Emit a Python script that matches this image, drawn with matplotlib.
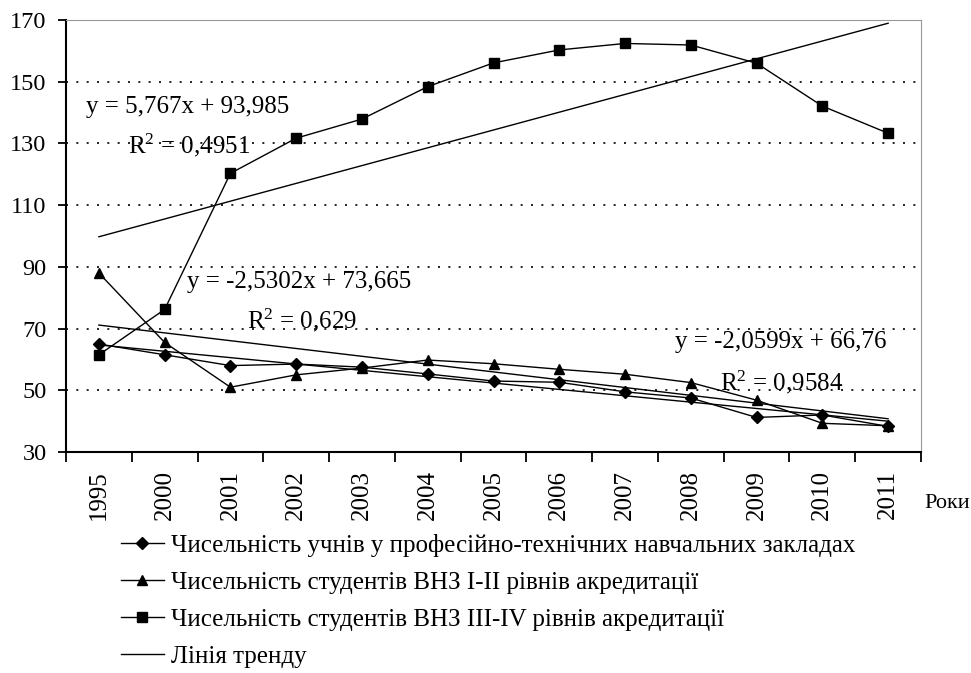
import numpy as np
import matplotlib.pyplot as plt
from matplotlib.lines import Line2D

plt.rcParams['font.family'] = ['Liberation Serif', 'DejaVu Serif']
plt.rcParams['mathtext.fontset'] = 'custom'
plt.rcParams['mathtext.rm'] = 'Liberation Serif'

# дані
years = ['1995', '2000', '2001', '2002', '2003', '2004', '2005', '2006',
         '2007', '2008', '2009', '2010', '2011']
ptnz = [65, 61.5, 58, 58.5, 57.5, 55.3, 53, 52.6, 49.5, 47.5, 41.2, 42, 38.3]
vnz12 = [88, 65.5, 51, 55, 57.2, 59.8, 58.6, 56.8, 55.2, 52.5, 46.8, 39.3, 38.5]
vnz34 = [61.5, 76.2, 120.3, 131.7, 137.9, 148.4, 156.1, 160.3, 162.4, 161.9, 156, 142.1, 133.3]

# лінії тренду (з рівнянь на графіку)
trend_slope = [-2.0599, -2.5302, 5.767]
trend_icpt = [66.76, 73.665, 93.985]
trend_eq = ['y = -2,0599x + 66,76', 'y = -2,5302x + 73,665', 'y = 5,767x + 93,985']
trend_r2 = ['$\\mathregular{R^2}$ = 0,9584', '$\\mathregular{R^2}$ = 0,629',
            '$\\mathregular{R^2}$ = 0,4951']

labels = ['Чисельність учнів у професійно-технічних навчальних закладах',
          'Чисельність студентів ВНЗ І-ІІ рівнів акредитації',
          'Чисельність студентів ВНЗ ІІІ-ІV рівнів акредитації',
          'Лінія тренду']

fig = plt.figure(figsize=(9.71, 6.73), dpi=100)
ax = fig.add_axes([66/971, 1-452/673, 855/971, 432/673])

x = np.arange(len(years))
ax.plot(x, ptnz, 'k-', marker='D', ms=6.5, lw=1)
ax.plot(x, vnz12, 'k-', marker='^', ms=7, lw=1)
ax.plot(x, vnz34, 'k-', marker='s', ms=6.5, lw=1)

xt = x + 1
for k in range(3):
    ax.plot(x, trend_slope[k]*xt + trend_icpt[k], 'k-', lw=1)

# підписи рівнянь
eq_pos = [(8.76, 65.6, 9.44, 52.7), (1.34, 85.1, 2.25, 72.8), (-0.2, 141.8, 0.44, 129.5)]
for k in range(3):
    ex, ey, rx, ry = eq_pos[k]
    ax.text(ex, ey, trend_eq[k], fontsize=18, ha='left', va='center')
    ax.text(rx, ry, trend_r2[k], fontsize=18, ha='left', va='center')

ax.set_xlim(-0.5, 12.5)
ax.set_ylim(30, 170)
ax.set_yticks(range(30, 171, 20))
ax.set_xticks(x)
ax.set_xticklabels(years, rotation=90, va='top')
ax.set_xticks(np.arange(-0.5, 13, 1), minor=True)
ax.tick_params(axis='x', which='major', length=0, pad=13, labelsize=18)
ax.tick_params(axis='x', which='minor', length=7, width=1.3, direction='out')
ax.tick_params(axis='y', length=6, width=1.3, direction='out', labelsize=17.5, pad=8)

for v in range(50, 151, 20):
    ax.axhline(v, color='k', lw=1.2, ls=(0, (1.2, 5)), zorder=0)

ax.spines['left'].set_linewidth(1.5)
ax.spines['bottom'].set_linewidth(1.5)
ax.spines['top'].set_color('#999999')
ax.spines['right'].set_color('#999999')

fig.text(924/971, 1-503/673, 'Роки', fontsize=16, ha='left', va='center')

handles = [Line2D([], [], color='k', lw=1, marker='D', ms=6.5),
           Line2D([], [], color='k', lw=1, marker='^', ms=7),
           Line2D([], [], color='k', lw=1, marker='s', ms=6.5),
           Line2D([], [], color='k', lw=1)]
fig.legend(handles, labels, loc='upper left', bbox_to_anchor=(121/971, 1-534/673),
           frameon=False, fontsize=18, handlelength=1.7, handletextpad=0.3,
           labelspacing=0.58, borderpad=0, borderaxespad=0)

plt.savefig('out.png', dpi=100)
